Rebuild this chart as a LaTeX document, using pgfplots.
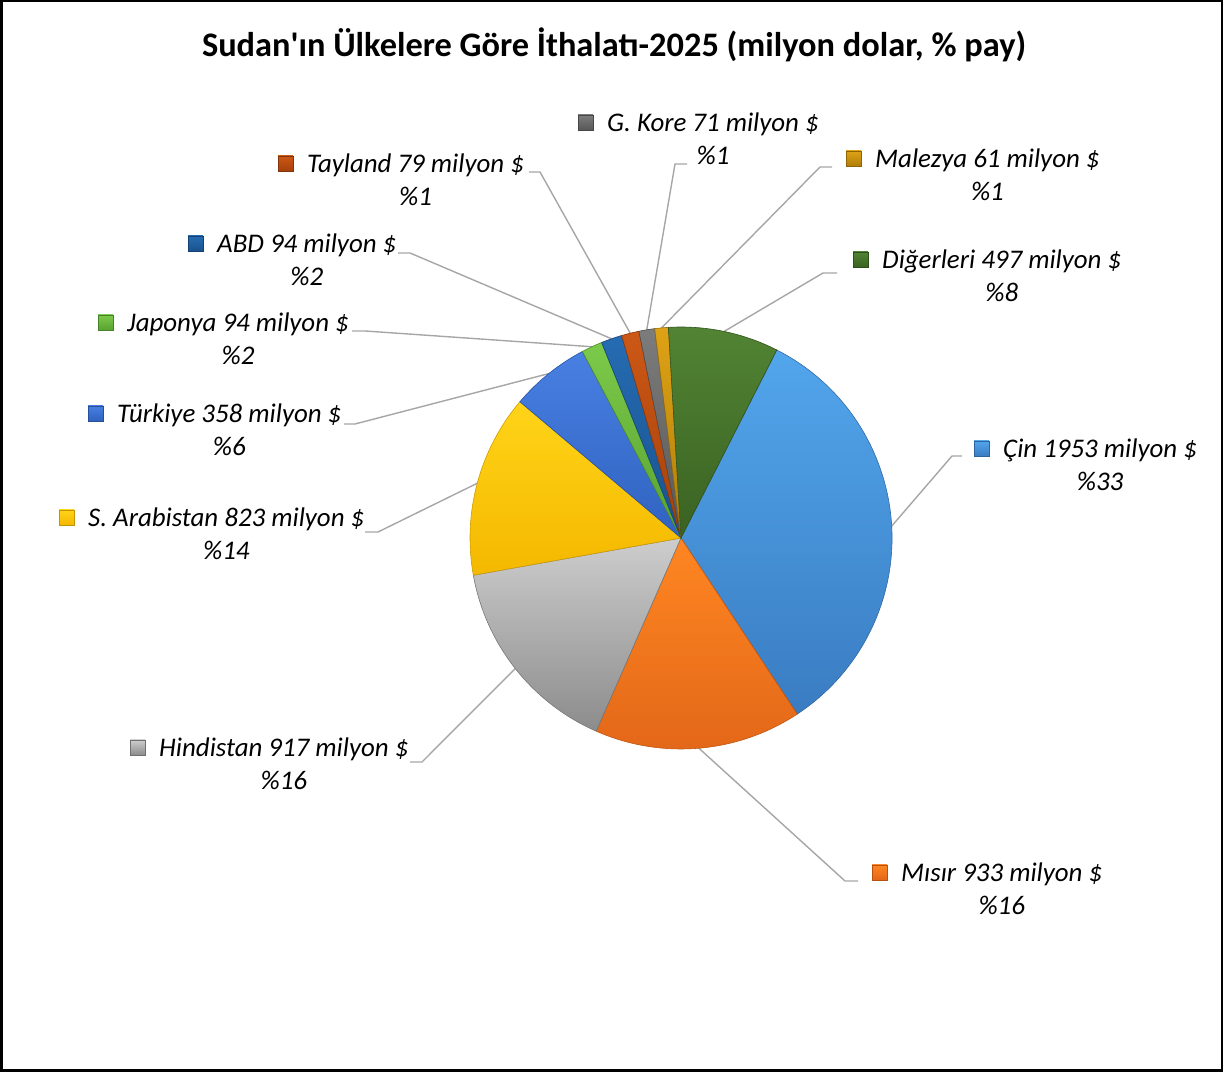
\documentclass[border=0pt]{standalone}
\usepackage{fontspec}
\setmainfont{Carlito}
\usepackage{pgfplots}
\pgfplotsset{compat=1.18}
\usetikzlibrary{calc}

% slice colours: top / bottom of the gradient
\definecolor{t0}{RGB}{82,166,236}  \definecolor{b0}{RGB}{58,124,194}
\definecolor{t1}{RGB}{255,134,34}  \definecolor{b1}{RGB}{226,102,24}
\definecolor{t2}{RGB}{205,205,205} \definecolor{b2}{RGB}{140,140,140}
\definecolor{t3}{RGB}{255,212,24}  \definecolor{b3}{RGB}{244,184,0}
\definecolor{t4}{RGB}{72,128,226}  \definecolor{b4}{RGB}{48,98,192}
\definecolor{t5}{RGB}{124,202,74}  \definecolor{b5}{RGB}{88,162,50}
\definecolor{t6}{RGB}{38,108,178}  \definecolor{b6}{RGB}{24,82,142}
\definecolor{t7}{RGB}{204,88,22}   \definecolor{b7}{RGB}{166,64,10}
\definecolor{t8}{RGB}{124,124,124} \definecolor{b8}{RGB}{88,88,88}
\definecolor{t9}{RGB}{222,162,22}  \definecolor{b9}{RGB}{176,126,8}
\definecolor{t10}{RGB}{82,132,52}  \definecolor{b10}{RGB}{58,98,34}
\definecolor{leader}{RGB}{166,166,166}

% Cin, Misir, Hindistan, S. Arabistan, Turkiye, Japonya, ABD, Tayland, G. Kore, Malezya, Digerleri
\def\vals{1953,933,917,823,358,94,94,79,71,61,497}
\def\firstangle{27} % clockwise from 12 o'clock
\def\cx{681}\def\cy{-538}\def\rad{211bp}

\xdef\tot{0}
\foreach \v in \vals {\pgfmathparse{\tot+\v}\xdef\tot{\pgfmathresult}}
\xdef\cum{0}
\foreach \v [count=\i from 0] in \vals {%
  \pgfmathsetmacro\sa{90-\firstangle-360*(\cum/\tot)}%
  \pgfmathsetmacro\ea{90-\firstangle-360*((\cum+\v)/\tot)}%
  \pgfmathsetmacro\md{(\sa+\ea)/2}%
  \expandafter\xdef\csname sa\i\endcsname{\sa}%
  \expandafter\xdef\csname ea\i\endcsname{\ea}%
  \expandafter\xdef\csname md\i\endcsname{\md}%
  \pgfmathparse{\cum+\v}\xdef\cum{\pgfmathresult}%
}

\tikzset{lab/.style={font=\itshape\fontsize{27}{32}\selectfont, inner sep=0pt, text=black}}

% #1 slice, #2 text x, #3 baseline y, #4 text, #5 share
\newcommand\lbl[5]{%
  \node[lab, anchor=base west] (L#1) at (axis cs:#2,-#3) {#4};
  \node[lab, anchor=base] at ([yshift=-33bp]L#1.base) {#5};
  \shade[top color=t#1, bottom color=b#1, draw=b#1!80!black, line width=0.4bp]
    ([xshift=-29bp,yshift=2bp]L#1.base west) rectangle ++(15bp,15bp);
}
% #1 slice, #2 x at label, #3 x at bend, #4 y
\newcommand\ldr[4]{%
  \draw[leader, line width=1.4bp] (axis cs:#2,-#4) -- (axis cs:#3,-#4)
    -- ($(axis cs:\cx,\cy)+(\csname md#1\endcsname:\rad)$);
}

\begin{document}
\begin{tikzpicture}
\begin{axis}[
  hide axis, scale only axis,
  width=1223bp, height=1072bp,
  xmin=0, xmax=1223, ymin=-1072, ymax=0,
  enlargelimits=false, clip=false,
]
% leader lines first, slices on top
\ldr{0}{962}{952}{456}
\ldr{1}{858}{845}{881}
\ldr{2}{410}{422}{762}
\ldr{3}{365}{378}{532}
\ldr{4}{344}{355}{424}
\ldr{5}{352}{365}{331}
\ldr{6}{398}{410}{253}
\ldr{7}{529}{540}{172}
\ldr{8}{687}{675}{164}
\ldr{9}{832}{820}{167}
\ldr{10}{837}{823}{273}

\pgfplotsinvokeforeach{0,...,10}{
  \shade[top color=t#1, bottom color=b#1, draw=b#1!85!black, line width=0.6bp]
    (axis cs:\cx,\cy) -- ++(\csname sa#1\endcsname:\rad)
    arc[start angle=\csname sa#1\endcsname, end angle=\csname ea#1\endcsname, radius=\rad]
    -- cycle;
}

\lbl{0}{1003}{458}{Çin 1953 milyon \$}{\%33}
\lbl{1}{901}{882}{Mısır 933 milyon \$}{\%16}
\lbl{2}{159}{757}{Hindistan 917 milyon \$}{\%16}
\lbl{3}{88}{527}{S. Arabistan 823 milyon \$}{\%14}
\lbl{4}{117}{423}{Türkiye 358 milyon \$}{\%6}
\lbl{5}{127}{332}{Japonya 94 milyon \$}{\%2}
\lbl{6}{217}{253}{ABD 94 milyon \$}{\%2}
\lbl{7}{307}{173}{Tayland 79 milyon \$}{\%1}
\lbl{8}{607}{132}{G. Kore 71 milyon \$}{\%1}
\lbl{9}{875}{168}{Malezya 61 milyon \$}{\%1}
\lbl{10}{882}{269}{Diğerleri 497 milyon \$}{\%8}

\node[font=\bfseries\fontsize{34.5}{40}\selectfont, anchor=base] at (axis cs:614,-57)
  {Sudan\textquotesingle ın Ülkelere Göre İthalatı-2025 (milyon dolar, \% pay)};

\draw[black, line width=2.5bp] (axis cs:1.25,-1.25) rectangle (axis cs:1221.75,-1070.75);
\end{axis}
\end{tikzpicture}
\end{document}
